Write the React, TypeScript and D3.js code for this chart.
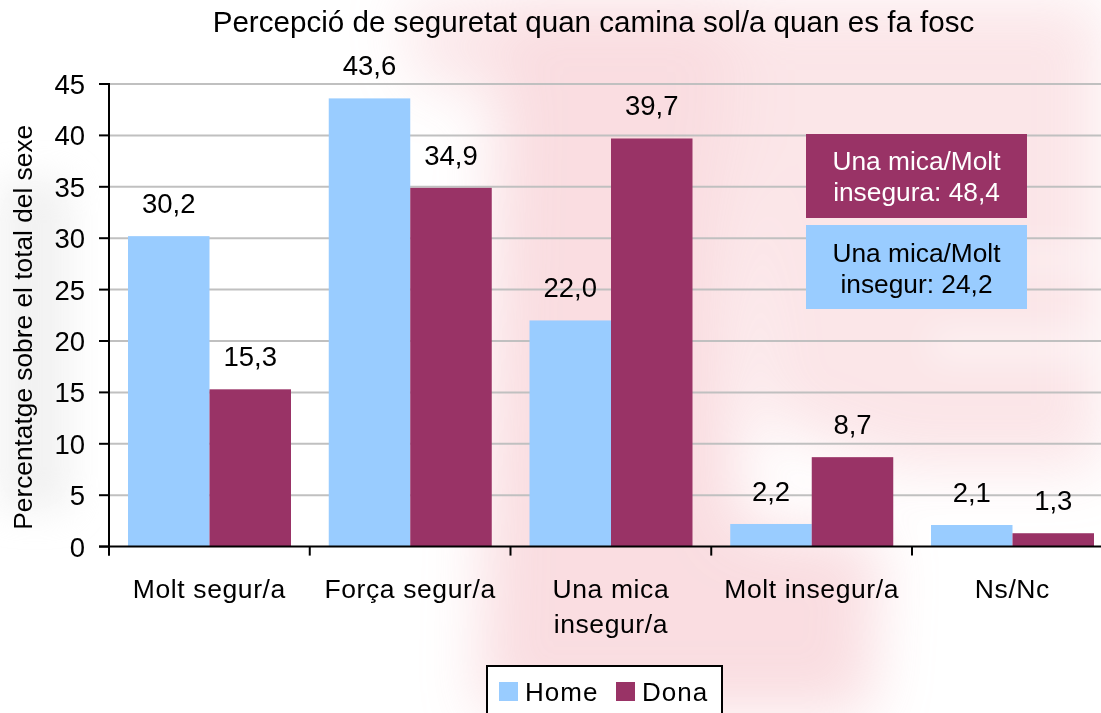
import * as d3 from "d3";

// categories (x axis), one entry per line of the label
const categoryLines: string[][] = [
  ["Molt segur/a"],
  ["Força segur/a"],
  ["Una mica", "insegur/a"],
  ["Molt insegur/a"],
  ["Ns/Nc"],
];
const categories = categoryLines.map((l) => l.join(" "));

const seriesNames = ["Home", "Dona"];
const homeValues = [30.2, 43.6, 22.0, 2.2, 2.1];
const donaValues = [15.3, 34.9, 39.7, 8.7, 1.3];
const yTicks = [0, 5, 10, 15, 20, 25, 30, 35, 40, 45];

const noteDona = ["Una mica/Molt", "insegura: 48,4"];
const noteHome = ["Una mica/Molt", "insegur: 24,2"];

const title = "Percepció de seguretat quan camina sol/a quan es fa fosc";
const yTitle = "Percentatge sobre el total del sexe";

const colors: Record<string, string> = { Home: "#99ccff", Dona: "#993366" };
const font = "'Liberation Sans', Arial, sans-serif";

const width = 1101;
const height = 713;
const left = 109;
const step = 200.75;
const zeroY = 546.6;
const topY = 84;

const catalan = d3.formatLocale({
  decimal: ",",
  thousands: ".",
  grouping: [3],
  currency: ["", " €"],
});
const fmt = catalan.format(".1f");

export default function App() {
  const x = d3
    .scaleBand<string>()
    .domain(categories)
    .range([left, left + step * categories.length])
    .padding(0);
  const inner = d3
    .scaleBand<string>()
    .domain(seriesNames)
    .range([19, 182])
    .padding(0);
  const y = d3.scaleLinear().domain([0, 45]).range([zeroY, topY]);

  const rows = categories.map((c, i) => ({
    cat: c,
    values: [
      { name: "Home", value: homeValues[i] },
      { name: "Dona", value: donaValues[i] },
    ],
  }));

  return (
    <svg
      width={width}
      height={height}
      style={{ position: "absolute", left: 0, top: 0, background: "#fff" }}
      fontFamily={font}
    >
      <defs>
        <filter id="soft" x="-50%" y="-50%" width="200%" height="200%">
          <feGaussianBlur stdDeviation="30" />
        </filter>
        <filter id="soft2" x="-50%" y="-50%" width="200%" height="200%">
          <feGaussianBlur stdDeviation="18" />
        </filter>
      </defs>

      {/* faded watermark behind the chart */}
      <g filter="url(#soft)" opacity={0.36}>
        <polygon points="500,0 730,0 740,713 480,713" fill="#f0a0aa" />
        <polygon points="720,0 1101,0 1101,470 900,470 760,420" fill="#f0a0aa" opacity={0.75} />
        <polygon points="700,520 880,540 870,713 700,713" fill="#f0a0aa" />
        <polygon points="400,0 560,0 540,90 420,90" fill="#f0a0aa" opacity={0.7} />
      </g>
      <g filter="url(#soft2)" opacity={0.5}>
        <rect x={930} y={330} width={171} height={30} fill="#fff" />
        <rect x={930} y={250} width={171} height={20} fill="#fff" />
        <rect x={0} y={180} width={70} height={330} fill="#e4e4e4" />
      </g>

      <text x={593.5} y={32} textAnchor="middle" fontSize={29.6} fill="#000">
        {title}
      </text>

      {/* gridlines */}
      {yTicks.slice(1).map((t) => (
        <line
          key={t}
          x1={left}
          x2={width}
          y1={y(t)}
          y2={y(t)}
          stroke="#c0c0c0"
          strokeWidth={2}
        />
      ))}

      {/* bars */}
      {rows.map((r) => (
        <g key={r.cat} transform={`translate(${x(r.cat)},0)`}>
          {r.values.map((v) => (
            <rect
              key={v.name}
              x={inner(v.name)}
              y={y(v.value)}
              width={inner.bandwidth()}
              height={zeroY - y(v.value)}
              fill={colors[v.name]}
            />
          ))}
          {r.values.map((v) => (
            <text
              key={v.name + "l"}
              x={(inner(v.name) ?? 0) + inner.bandwidth() / 2}
              y={y(v.value) - 23}
              textAnchor="middle"
              fontSize={27.5}
              fill="#000"
            >
              {fmt(v.value)}
            </text>
          ))}
        </g>
      ))}

      {/* y axis */}
      <line x1={left} x2={left} y1={topY - 1} y2={zeroY + 9} stroke="#000" strokeWidth={2} />
      {yTicks.map((t) => (
        <g key={t} transform={`translate(0,${y(t)})`}>
          <line x1={left - 10} x2={left} stroke="#000" strokeWidth={2} />
          <text x={85} dy="0.36em" textAnchor="end" fontSize={27.5} fill="#000">
            {t}
          </text>
        </g>
      ))}
      <text
        transform={`translate(32,${(topY + zeroY) / 2 + 12}) rotate(-90)`}
        textAnchor="middle"
        fontSize={26.3}
        fill="#000"
      >
        {yTitle}
      </text>

      {/* x axis */}
      <line x1={left - 10} x2={width} y1={zeroY} y2={zeroY} stroke="#000" strokeWidth={2} />
      {categories.map((c) => (
        <line
          key={c}
          x1={x(c)}
          x2={x(c)}
          y1={zeroY}
          y2={zeroY + 9}
          stroke="#000"
          strokeWidth={2}
        />
      ))}
      {categoryLines.map((lines, i) => (
        <text
          key={categories[i]}
          x={(x(categories[i]) ?? 0) + x.bandwidth() / 2}
          y={598}
          textAnchor="middle"
          fontSize={26.5}
          letterSpacing={0.6}
          fill="#000"
        >
          {lines.map((ln, j) => (
            <tspan key={j} x={(x(categories[i]) ?? 0) + x.bandwidth() / 2} dy={j === 0 ? 0 : 35}>
              {ln}
            </tspan>
          ))}
        </text>
      ))}

      {/* call-out boxes */}
      <rect x={806} y={134} width={221} height={84} fill={colors.Dona} />
      <text x={916.5} y={170} textAnchor="middle" fontSize={26.3} fill="#fff">
        <tspan x={916.5}>{noteDona[0]}</tspan>
        <tspan x={916.5} dy={31}>{noteDona[1]}</tspan>
      </text>
      <rect x={806} y={225} width={221} height={84} fill={colors.Home} />
      <text x={916.5} y={262} textAnchor="middle" fontSize={26.3} fill="#000">
        <tspan x={916.5}>{noteHome[0]}</tspan>
        <tspan x={916.5} dy={31}>{noteHome[1]}</tspan>
      </text>

      {/* legend */}
      <rect x={487} y={666} width={235} height={60} fill="#fff" stroke="#000" strokeWidth={2} />
      {seriesNames.map((s, i) => (
        <g key={s} transform={`translate(${499 + i * 117},682)`}>
          <rect width={19} height={19} fill={colors[s]} />
          <text x={26} y={18.5} fontSize={26} letterSpacing={1} fill="#000">
            {s}
          </text>
        </g>
      ))}
    </svg>
  );
}
